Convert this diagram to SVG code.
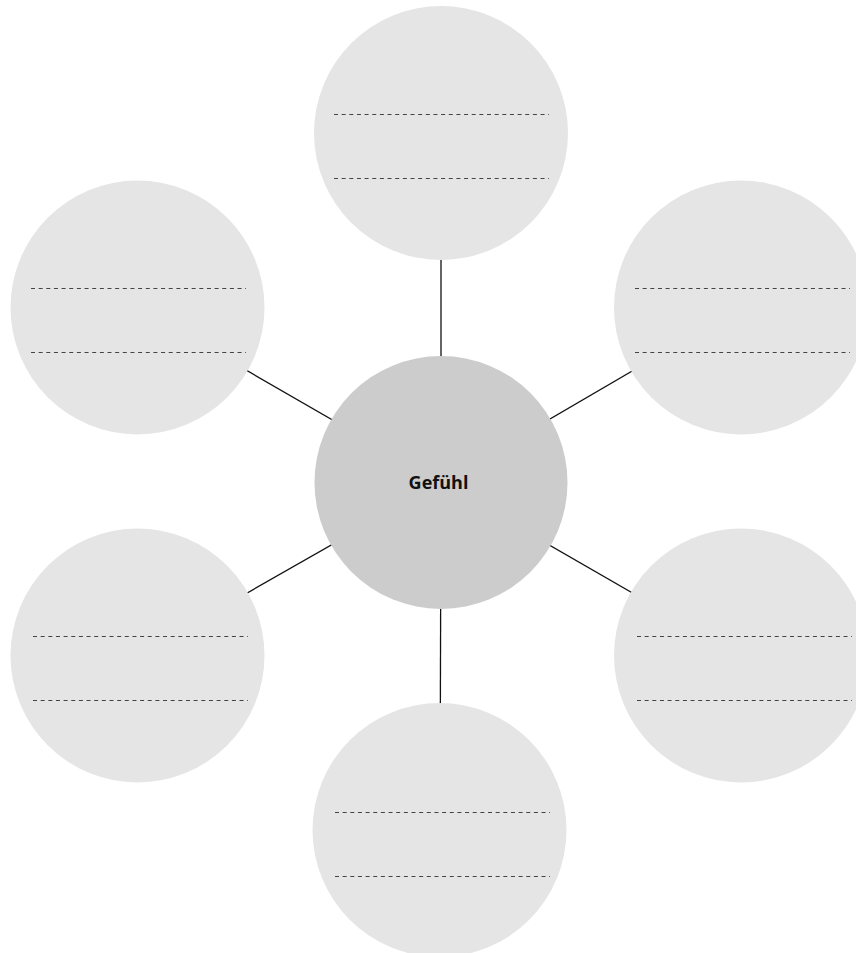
<svg xmlns="http://www.w3.org/2000/svg" width="856" height="953" viewBox="0 0 856 953">
  <style>
    .bubble { fill: #e5e5e5; }
    .hub { fill: #cccccc; }
    .link { stroke: #111111; stroke-width: 1.3; fill: none; }
    .rule { stroke: #444444; stroke-width: 1; stroke-dasharray: 4 3.65; fill: none; }
    .label { font-family: "Open Sans", "Liberation Sans", sans-serif; font-weight: bold; font-size: 18px; fill: #111111; }
  </style>
  <rect width="856" height="953" fill="#ffffff"/>

  <!-- spokes from the hub to each bubble -->
  <g id="connectors">
    <line class="link" x1="441" y1="482.5" x2="441" y2="133"/>
    <line class="link" x1="441" y1="482.5" x2="137.5" y2="307.5"/>
    <line class="link" x1="441" y1="482.5" x2="741" y2="307.5"/>
    <line class="link" x1="441" y1="482.5" x2="137.5" y2="655.5"/>
    <line class="link" x1="441" y1="482.5" x2="741" y2="655.5"/>
    <line class="link" x1="441" y1="482.5" x2="440" y2="830"/>
  </g>

  <g id="bubble-top">
    <circle class="bubble" cx="441" cy="133" r="127"/>
    <line class="rule" x1="334" y1="114.5" x2="549" y2="114.5"/>
    <line class="rule" x1="334" y1="178.5" x2="549" y2="178.5"/>
  </g>

  <g id="bubble-upper-left">
    <circle class="bubble" cx="137.5" cy="307.5" r="127"/>
    <line class="rule" x1="31" y1="288.5" x2="246" y2="288.5"/>
    <line class="rule" x1="31" y1="352.5" x2="246" y2="352.5"/>
  </g>

  <g id="bubble-upper-right">
    <circle class="bubble" cx="741" cy="307.5" r="127"/>
    <line class="rule" x1="635" y1="288.5" x2="850" y2="288.5"/>
    <line class="rule" x1="635" y1="352.5" x2="850" y2="352.5"/>
  </g>

  <g id="bubble-lower-left">
    <circle class="bubble" cx="137.5" cy="655.5" r="127"/>
    <line class="rule" x1="33" y1="636.5" x2="248" y2="636.5"/>
    <line class="rule" x1="33" y1="700.5" x2="248" y2="700.5"/>
  </g>

  <g id="bubble-lower-right">
    <circle class="bubble" cx="741" cy="655.5" r="127"/>
    <line class="rule" x1="637" y1="636.5" x2="852" y2="636.5"/>
    <line class="rule" x1="637" y1="700.5" x2="852" y2="700.5"/>
  </g>

  <g id="bubble-bottom">
    <circle class="bubble" cx="439.5" cy="830" r="127"/>
    <line class="rule" x1="335" y1="812.5" x2="550" y2="812.5"/>
    <line class="rule" x1="335" y1="876.5" x2="550" y2="876.5"/>
  </g>

  <g id="hub">
    <circle class="hub" cx="441" cy="482.5" r="126.5"/>
    <text class="label" x="438.5" y="488.5" text-anchor="middle">Gefühl</text>
  </g>
</svg>
